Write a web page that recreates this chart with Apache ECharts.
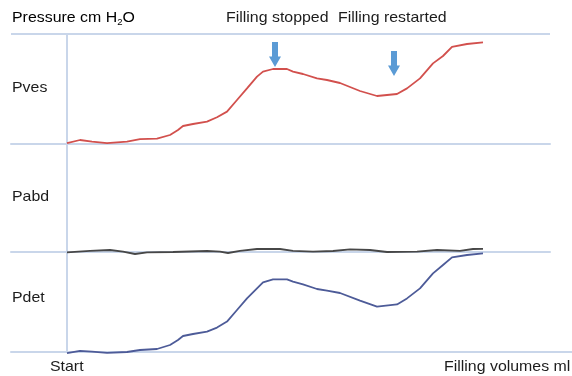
<!DOCTYPE html>
<html>
<head>
<meta charset="utf-8">
<style>
  html, body { margin: 0; padding: 0; background: #ffffff; }
  #chart { width: 572px; height: 376px; }
</style>
<script src="https://cdn.jsdelivr.net/npm/echarts@6/dist/echarts.min.js"></script>
</head>
<body>
<div id="chart"></div>
<script>
// Filling volume (ml) and pressures (cm H2O) during a cystometry trace.
const volumes = [0, 13, 25, 40, 60, 73, 90, 103, 111, 116, 126, 140, 150, 160, 170, 180, 190, 196, 206, 220, 226, 236, 250, 260, 273, 293, 310, 330, 340, 353, 366, 376, 385, 400, 416];
const pves    = [0.4, 2.0, 1.2, 0.4, 1.2, 2.4, 2.7, 4.5, 7.0, 9.0, 10.0, 11.2, 13.4, 16.2, 22.0, 27.8, 33.7, 36.2, 37.5, 37.5, 36.2, 35.0, 32.8, 32.0, 30.5, 26.5, 24.0, 25.0, 27.8, 32.8, 40.3, 44.0, 48.6, 50.0, 50.8];
const pdet    = [-0.6, 0.6, 0.2, -0.4, 0.0, 1.0, 1.5, 3.5, 6.0, 8.0, 9.0, 10.2, 12.2, 15.2, 21.0, 26.8, 31.8, 34.8, 36.3, 36.3, 35.2, 33.8, 31.5, 30.7, 29.5, 25.7, 22.7, 23.8, 26.8, 31.8, 39.3, 43.5, 47.3, 48.5, 49.3];

const pabdVolumes = [0, 23, 43, 56, 68, 80, 106, 140, 153, 161, 173, 190, 213, 226, 246, 266, 283, 303, 320, 350, 370, 393, 406, 416];
const pabd        = [-0.2, 0.6, 1.0, 0.2, -1.0, -0.2, 0.0, 0.5, 0.2, -0.5, 0.6, 1.5, 1.5, 0.6, 0.2, 0.5, 1.3, 1.0, 0.0, 0.2, 1.0, 0.6, 1.5, 1.6];

// Filling events: volume at which filling stopped / restarted, and arrow tip pressure on the Pves panel
const eventNames = ['Filling stopped', 'Filling restarted'];
const eventVolumes = [208, 327];
const eventArrowTips = [38.5, 34.0];

const panelNames = ['Pves', 'Pabd', 'Pdet'];
const yTitle = 'Pressure cm H';
const xStartLabel = 'Start';
const xEndLabel = 'Filling volumes ml';

const pairs = (xs, ys) => xs.map((x, i) => [x, ys[i]]);

const FONT = '"Liberation Sans", Arial, Helvetica, sans-serif';
const AXIS_COLOR = '#c9d6ea';
const TEXT_COLOR = '#1c1c1c';
const FONT_SIZE = 15;
const TEXT_SCALE_X = 1.06;

// three stacked panels share the volume scale (1 ml per pixel)
const panels = [
  { top: 34,  height: 110, right: 22, yMax: 55, xMax: 483 },
  { top: 144, height: 108, right: 22, yMax: 54, xMax: 483 },
  { top: 252, height: 100, right: 0,  yMax: 50, xMax: 505 }
];
const X_MIN = -56;

const chart = echarts.init(document.getElementById('chart'), null, { renderer: 'canvas' });

const grid = panels.map(p => ({ left: 11, right: p.right, top: p.top, height: p.height }));

const xAxis = panels.map((p, i) => ({
  type: 'value', gridIndex: i, min: X_MIN, max: p.xMax,
  axisLine: { show: true, onZero: true, lineStyle: { color: AXIS_COLOR, width: 2 } },
  axisTick: { show: false }, axisLabel: { show: false }, splitLine: { show: false }
}));

const yAxis = panels.map((p, i) => ({
  type: 'value', gridIndex: i, min: 0, max: p.yMax, interval: p.yMax,
  axisLine: { show: true, onZero: true, lineStyle: { color: AXIS_COLOR, width: 2 } },
  axisTick: { show: false }, axisLabel: { show: false },
  splitLine: { show: i === 0, lineStyle: { color: AXIS_COLOR, width: 2 } }
}));

const arrowPath = 'path://M3,0 L9,0 L9,15 L12,15 L6,26 L0,15 L3,15 Z';

const lineBase = { type: 'line', showSymbol: false, smooth: false, clip: false, z: 5 };

const series = [
  Object.assign({}, lineBase, {
    name: panelNames[0], xAxisIndex: 0, yAxisIndex: 0,
    data: pairs(volumes, pves),
    lineStyle: { color: '#d2504d', width: 1.8 },
    markPoint: {
      symbol: arrowPath, symbolSize: [12, 25], symbolOffset: [0, '-50%'],
      itemStyle: { color: '#5b9bd5' }, label: { show: false }, silent: true,
      data: eventVolumes.map((v, i) => ({ name: eventNames[i], coord: [v, eventArrowTips[i]] }))
    }
  }),
  Object.assign({}, lineBase, {
    name: panelNames[1], xAxisIndex: 1, yAxisIndex: 1,
    data: pairs(pabdVolumes, pabd),
    lineStyle: { color: '#474747', width: 1.8 }
  }),
  Object.assign({}, lineBase, {
    name: panelNames[2], xAxisIndex: 2, yAxisIndex: 2,
    data: pairs(volumes, pdet),
    lineStyle: { color: '#4d5b98', width: 1.8 }
  })
];

// text anchored at its left edge and vertical centre
const txt = (left, middle, text) => ({
  type: 'text', x: left, y: middle, scaleX: TEXT_SCALE_X,
  style: { text: text, fill: TEXT_COLOR, font: FONT_SIZE + 'px ' + FONT, textVerticalAlign: 'middle' }
});

const graphic = [
  {
    type: 'text', x: 12, y: 9, scaleX: TEXT_SCALE_X,
    style: {
      text: '{a|' + yTitle + '}{s|2}{a|O}',
      rich: {
        a: { fontSize: FONT_SIZE, fontFamily: FONT, color: TEXT_COLOR, lineHeight: 18, height: 18 },
        s: { fontSize: 9, fontFamily: FONT, color: TEXT_COLOR, lineHeight: 9, padding: [9, 0, 0, 0] }
      }
    }
  },
  txt(226, 18, eventNames[0]),
  txt(338, 18, eventNames[1]),
  txt(12, 88, panelNames[0]),
  txt(12, 197, panelNames[1]),
  txt(12, 298, panelNames[2]),
  txt(50, 367, xStartLabel),
  txt(444, 367, xEndLabel)
];

chart.setOption({
  backgroundColor: '#ffffff',
  animation: false,
  grid: grid,
  xAxis: xAxis,
  yAxis: yAxis,
  series: series,
  graphic: graphic
});
</script>
</body>
</html>
